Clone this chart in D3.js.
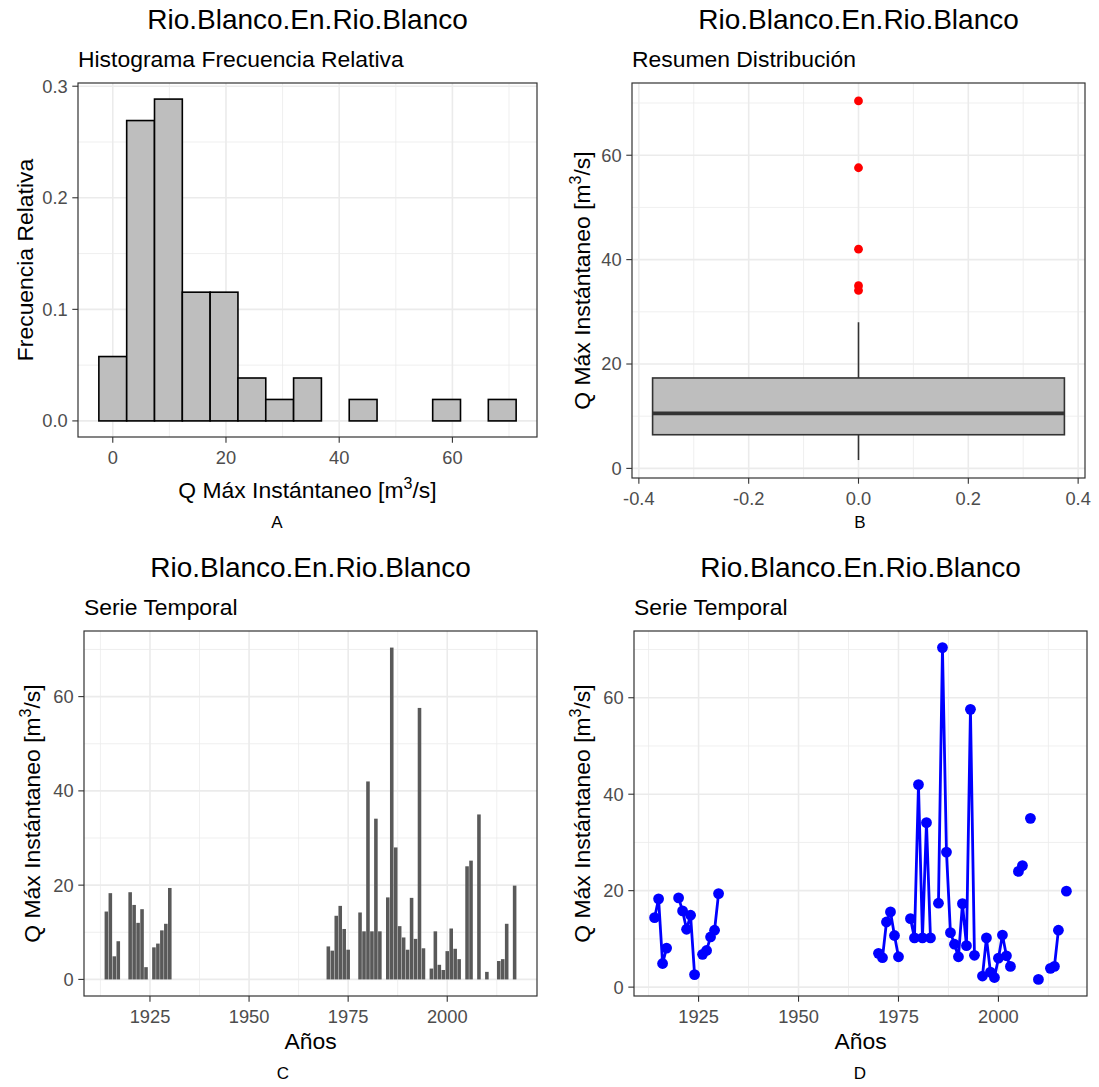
<!DOCTYPE html>
<html><head><meta charset="utf-8">
<script src="https://cdn.jsdelivr.net/npm/d3@7"></script>
<style>
body{margin:0;background:#fff}
text{font-family:"Liberation Sans",Arial,sans-serif}
</style>
</head><body>
<svg id="c" width="1099" height="1087"></svg>
<script>
const stationTitle = "Rio.Blanco.En.Rio.Blanco";
const subtitles = ["Histograma Frecuencia Relativa","Resumen Distribución","Serie Temporal","Serie Temporal"];
const captions = ["A","B","C","D"];
const years = [1914,1915,1916,1917,1920,1921,1922,1923,1924,1926,1927,1928,1929,1930,
  1970,1971,1972,1973,1974,1975,1978,1979,1980,1981,1982,1983,
  1985,1986,1987,1988,1989,1990,1991,1992,1993,1994,
  1996,1997,1998,1999,2000,2001,2002,2003,2005,2006,2008,2010,2013,2014,2015,2017];
const qmax = [14.4,18.3,4.9,8.1,18.5,15.8,12.0,14.9,2.6,6.8,7.6,10.4,11.8,19.4,
  7.0,6.1,13.5,15.6,10.7,6.3,14.2,10.2,42.0,10.2,34.1,10.2,
  17.4,70.4,28.0,11.3,8.9,6.3,17.3,8.6,57.6,6.6,
  2.3,10.2,3.1,2.0,6.0,10.8,6.5,4.3,24.0,25.2,35.0,1.6,3.9,4.3,11.8,19.9];
const histBins = 15;
const histTicksX = [0,20,40,60];
const histTicksY = [0,0.1,0.2,0.3];
const boxTicksX = [-0.4,-0.2,0,0.2,0.4];
const qTicks = [0,20,40,60];
const yearTicks = [1925,1950,1975,2000];

const svg = d3.select("#c");
svg.append("rect").attr("width",1099).attr("height",1087).attr("fill","#fff");

const FS_TICK = 18.3, FS_AXT = 22.9, FS_TITLE = 28, FS_SUB = 22.9, FS_CAP = 17;
const TICK = 5.7;

function expand(lo,hi){const d=(hi-lo)*0.05;return [lo-d,hi+d];}
function minorOf(major){const s=major[1]-major[0];const r=[];r.push(major[0]-s/2);major.forEach(m=>r.push(m+s/2));return r;}

function qLabel(t, supShift){
  t.append("tspan").text("Q Máx Instántaneo [m");
  t.append("tspan").attr("dy",-supShift).attr("font-size",FS_AXT*0.7).text("3");
  t.append("tspan").attr("dy",supShift).text("/s]");
}

function drawFrame(p){
  const g = svg.append("g");
  const inX = v=>{const px=p.x(v);return px>=p.x0-0.01&&px<=p.x1+0.01;};
  const inY = v=>{const py=p.y(v);return py>=p.y0-0.01&&py<=p.y1+0.01;};
  g.append("rect").attr("x",p.x0).attr("y",p.y0).attr("width",p.x1-p.x0).attr("height",p.y1-p.y0).attr("fill","#fff");
  g.selectAll(null).data(minorOf(p.xMajor).filter(inX)).join("line")
    .attr("x1",d=>p.x(d)).attr("x2",d=>p.x(d)).attr("y1",p.y0).attr("y2",p.y1)
    .attr("stroke","#EBEBEB").attr("stroke-width",0.8);
  g.selectAll(null).data(minorOf(p.yMajor).filter(inY)).join("line")
    .attr("y1",d=>p.y(d)).attr("y2",d=>p.y(d)).attr("x1",p.x0).attr("x2",p.x1)
    .attr("stroke","#EBEBEB").attr("stroke-width",0.8);
  g.selectAll(null).data(p.xMajor.filter(inX)).join("line")
    .attr("x1",d=>p.x(d)).attr("x2",d=>p.x(d)).attr("y1",p.y0).attr("y2",p.y1)
    .attr("stroke","#EBEBEB").attr("stroke-width",1.6);
  g.selectAll(null).data(p.yMajor.filter(inY)).join("line")
    .attr("y1",d=>p.y(d)).attr("y2",d=>p.y(d)).attr("x1",p.x0).attr("x2",p.x1)
    .attr("stroke","#EBEBEB").attr("stroke-width",1.6);
  g.selectAll(null).data(p.xMajor.filter(inX)).join("line")
    .attr("x1",d=>p.x(d)).attr("x2",d=>p.x(d)).attr("y1",p.y1).attr("y2",p.y1+TICK)
    .attr("stroke","#333333").attr("stroke-width",1.1);
  g.selectAll(null).data(p.yMajor.filter(inY)).join("line")
    .attr("y1",d=>p.y(d)).attr("y2",d=>p.y(d)).attr("x1",p.x0-TICK).attr("x2",p.x0)
    .attr("stroke","#333333").attr("stroke-width",1.1);
  g.selectAll(null).data(p.xMajor.filter(inX)).join("text")
    .attr("x",d=>p.x(d)).attr("y",p.y1+TICK+4.6+16.6).attr("text-anchor","middle")
    .attr("font-size",FS_TICK).attr("fill","#4D4D4D").text(p.xFmt);
  g.selectAll(null).data(p.yMajor.filter(inY)).join("text")
    .attr("x",p.x0-TICK-4.6).attr("y",d=>p.y(d)).attr("dy","0.35em").attr("text-anchor","end")
    .attr("font-size",FS_TICK).attr("fill","#4D4D4D").text(p.yFmt);
  const cx=(p.x0+p.x1)/2;
  g.append("text").attr("x",cx).attr("y",p.titleY).attr("text-anchor","middle")
    .attr("font-size",FS_TITLE).attr("fill","#000").text(stationTitle);
  g.append("text").attr("x",p.x0).attr("y",p.subY).attr("font-size",FS_SUB).attr("fill","#000").text(p.sub);
  g.append("text").attr("x",p.capX).attr("y",p.capY).attr("text-anchor","middle")
    .attr("font-size",FS_CAP).attr("fill","#000").text(p.cap);
  return g;
}
function drawBorder(p){
  svg.append("rect").attr("x",p.x0).attr("y",p.y0).attr("width",p.x1-p.x0).attr("height",p.y1-p.y0)
    .attr("fill","none").attr("stroke","#333333").attr("stroke-width",1.2);
}
function yTitle(x,y,fn){
  const t=svg.append("text").attr("transform",`translate(${x},${y}) rotate(-90)`).attr("text-anchor","middle")
    .attr("font-size",FS_AXT).attr("fill","#000");
  fn(t);
}
function xTitle(x,y,fn){
  const t=svg.append("text").attr("x",x).attr("y",y).attr("text-anchor","middle").attr("font-size",FS_AXT).attr("fill","#000");
  fn(t);
}

const n = qmax.length;
const qMinV = d3.min(qmax), qMaxV = d3.max(qmax);

// ---------- Panel A: histogram ----------
const bw = (qMaxV-qMinV)/(histBins-1);
const boundary = bw/2;
const origin = boundary + Math.floor((qMinV-boundary)/bw)*bw;
const breaks = d3.range(histBins+1).map(i=>origin+i*bw);
const bins = d3.range(histBins).map(i=>{
  const a=breaks[i], b=breaks[i+1];
  const c=qmax.filter(v=> (i===0? v>=a : v>a) && v<=b).length;
  return {a,b,f:c/n};
});
{
  const p={x0:78,x1:537,y0:83,y1:437,xMajor:histTicksX,yMajor:histTicksY,
    xFmt:d=>d,yFmt:d=>d.toFixed(1),titleY:29,subY:67,capX:277,capY:528,sub:subtitles[0],cap:captions[0]};
  p.x=d3.scaleLinear().domain(expand(breaks[0],breaks[histBins])).range([p.x0,p.x1]);
  p.y=d3.scaleLinear().domain(expand(0,d3.max(bins,b=>b.f))).range([p.y1,p.y0]);
  drawFrame(p);
  svg.append("g").selectAll("rect").data(bins).join("rect")
    .attr("x",d=>p.x(d.a)).attr("width",d=>p.x(d.b)-p.x(d.a))
    .attr("y",d=>p.y(d.f)).attr("height",d=>p.y(0)-p.y(d.f))
    .attr("fill","#BEBEBE").attr("stroke","#000").attr("stroke-width",1.6);
  drawBorder(p);
  yTitle(32.5,(p.y0+p.y1)/2,t=>t.text("Frecuencia Relativa"));
  xTitle((p.x0+p.x1)/2,498,t=>qLabel(t,9));
}

// ---------- Panel B: boxplot ----------
{
  const s=qmax.slice().sort(d3.ascending);
  const q1=d3.quantileSorted(s,0.25), med=d3.quantileSorted(s,0.5), q3=d3.quantileSorted(s,0.75);
  const iqr=q3-q1, lo=q1-1.5*iqr, hi=q3+1.5*iqr;
  const wLo=d3.min(s.filter(v=>v>=lo)), wHi=d3.max(s.filter(v=>v<=hi));
  const outl=s.filter(v=>v<lo||v>hi);
  const p={x0:632,x1:1085,y0:83,y1:478,xMajor:boxTicksX,yMajor:qTicks,
    xFmt:d=>d.toFixed(1),yFmt:d=>d,titleY:29,subY:67,capX:860,capY:528,sub:subtitles[1],cap:captions[1]};
  p.x=d3.scaleLinear().domain(expand(-0.375,0.375)).range([p.x0,p.x1]);
  p.y=d3.scaleLinear().domain(expand(qMinV,qMaxV)).range([p.y1,p.y0]);
  drawFrame(p);
  const g=svg.append("g");
  g.append("line").attr("x1",p.x(0)).attr("x2",p.x(0)).attr("y1",p.y(wHi)).attr("y2",p.y(q3)).attr("stroke","#333").attr("stroke-width",1.6);
  g.append("line").attr("x1",p.x(0)).attr("x2",p.x(0)).attr("y1",p.y(wLo)).attr("y2",p.y(q1)).attr("stroke","#333").attr("stroke-width",1.6);
  g.append("rect").attr("x",p.x(-0.375)).attr("width",p.x(0.375)-p.x(-0.375)).attr("y",p.y(q3)).attr("height",p.y(q1)-p.y(q3))
    .attr("fill","#BEBEBE").attr("stroke","#333").attr("stroke-width",1.6);
  g.append("line").attr("x1",p.x(-0.375)).attr("x2",p.x(0.375)).attr("y1",p.y(med)).attr("y2",p.y(med)).attr("stroke","#333").attr("stroke-width",3.6);
  g.selectAll("circle").data(outl).join("circle").attr("cx",p.x(0)).attr("cy",d=>p.y(d)).attr("r",4.4).attr("fill","#FF0000");
  drawBorder(p);
  yTitle(590,(p.y0+p.y1)/2,t=>qLabel(t,9));
}

// ---------- Panel C: bar series ----------
{
  const p={x0:84,x1:537,y0:631,y1:996,xMajor:yearTicks,yMajor:qTicks,
    xFmt:d=>d,yFmt:d=>d,titleY:577,subY:615,capX:283,capY:1079,sub:subtitles[2],cap:captions[2]};
  p.x=d3.scaleLinear().domain(expand(d3.min(years)-0.45,d3.max(years)+0.45)).range([p.x0,p.x1]);
  p.y=d3.scaleLinear().domain(expand(0,qMaxV)).range([p.y1,p.y0]);
  drawFrame(p);
  svg.append("g").selectAll("rect").data(years.map((yr,i)=>({yr,v:qmax[i]}))).join("rect")
    .attr("x",d=>p.x(d.yr-0.45)).attr("width",d=>p.x(d.yr+0.45)-p.x(d.yr-0.45))
    .attr("y",d=>p.y(d.v)).attr("height",d=>p.y(0)-p.y(d.v)).attr("fill","#595959");
  drawBorder(p);
  yTitle(40,(p.y0+p.y1)/2,t=>qLabel(t,9));
  xTitle((p.x0+p.x1)/2,1049,t=>t.text("Años"));
}

// ---------- Panel D: line + points ----------
{
  const p={x0:634,x1:1087,y0:631,y1:996,xMajor:yearTicks,yMajor:qTicks,
    xFmt:d=>d,yFmt:d=>d,titleY:577,subY:615,capX:860,capY:1079,sub:subtitles[3],cap:captions[3]};
  p.x=d3.scaleLinear().domain(expand(d3.min(years),d3.max(years))).range([p.x0,p.x1]);
  p.y=d3.scaleLinear().domain(expand(qMinV,qMaxV)).range([p.y1,p.y0]);
  drawFrame(p);
  const byYear=new Map(years.map((yr,i)=>[yr,qmax[i]]));
  const full=d3.range(d3.min(years),d3.max(years)+1).map(yr=>({yr,v:byYear.has(yr)?byYear.get(yr):null}));
  const line=d3.line().defined(d=>d.v!==null).x(d=>p.x(d.yr)).y(d=>p.y(d.v));
  svg.append("path").datum(full).attr("d",line).attr("fill","none").attr("stroke","#0000FF").attr("stroke-width",2.8).attr("stroke-linejoin","round");
  svg.append("g").selectAll("circle").data(years.map((yr,i)=>({yr,v:qmax[i]}))).join("circle")
    .attr("cx",d=>p.x(d.yr)).attr("cy",d=>p.y(d.v)).attr("r",5.4).attr("fill","#0000FF");
  drawBorder(p);
  yTitle(590,(p.y0+p.y1)/2,t=>qLabel(t,9));
  xTitle((p.x0+p.x1)/2,1049,t=>t.text("Años"));
}
</script>
</body></html>
